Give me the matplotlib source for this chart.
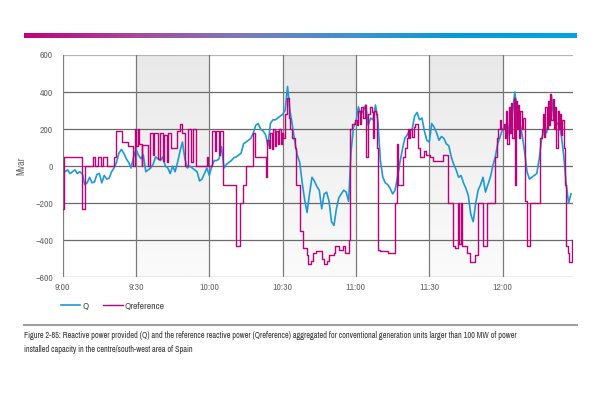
import numpy as np
import matplotlib
matplotlib.use("Agg")
import matplotlib.pyplot as plt
from matplotlib import font_manager
from matplotlib.colors import LinearSegmentedColormap

# a narrow face if one is installed, like the condensed type of the original
narrow = None
for f in font_manager.fontManager.ttflist:
    if 'Narrow' in f.name or 'Condensed' in f.name:
        narrow = (f.name, 'normal')
        break
if narrow is None:
    for f in font_manager.fontManager.ttflist:
        if f.stretch in ('condensed', 'semi-condensed') and 'Sans' in f.name:
            narrow = (f.name, f.stretch)
            break
if narrow is None:
    narrow = ('Liberation Sans', 'normal')
plt.rcParams['font.family'] = [narrow[0], 'DejaVu Sans']
plt.rcParams['font.stretch'] = narrow[1]

# minutes after 9:00, one value per minute (Q, Mvar)
q = [-10, -30, -20, -40, -30, -20, -40, -30, -40, -100,
     -90, -60, -90, -85, -45, -40, -90, -50, -70, -65,
     -30, -10, 20, 70, 90, 70, 40, 20, -10, 50,
     90, 60, 40, 60, -30, -20, -10, 10, 50, 40,
     30, 50, 0, -10, -40, 0, -30, 20, 80, 130,
     40, -10, 0, -10, -20, -30, -80, -70, -40, -10,
     -50, 0, 30, 30, 40, 105, -10, 10, 20, 30,
     45, 50, 60, 70, 120, 130, 140, 150, 180, 220,
     230, 200, 190, 170, 110, 230, 250, 250, 260, 270,
     280, 300, 430, 300, 220, 130, 60, 20, -90, -180,
     -250, -150, -60, -80, -110, -130, -230, -150, -140, -190,
     -300, -320, -230, -170, -150, -130, -140, -190, 80, 210,
     240, 320, 280, 300, 330, 220, 260, 250, 330, 240,
     30, -60, -90, -100, -120, -150, -130, -60, 20, 90,
     150, 170, 190, 200, 270, 290, 250, 260, 190, 140,
     130, 230, 210, 180, 140, 160, 150, 120, 110, 50,
     10, -20, -60, -50, -90, -120, -160, -260, -300, -200,
     -130, -100, -60, -140, -100, -60, 0, 50, 120, 160,
     200, 220, 150, 250, 280, 400, 300, 240, 170, 80,
     -30, -70, -60, -50, -40, 40, 150, 200, 180, 260,
     380, 260, 220, 240, 170, 60, -90, -200, -150]
minutes = np.arange(len(q))

# reference: change points (minute, Mvar), held until the next one
qref_t = [0, 0.6, 7.8, 9.1, 12.5, 13.4, 14.6, 15.8, 16.4, 18,
          20.8, 21.7, 24.2, 26.9, 28.9, 29.5, 30.2, 31, 31.3, 32.3,
          32.6, 35, 35.7, 37, 37.5, 39.1, 39.8, 41.2, 41.6, 42.5,
          43, 44.3, 46.6, 48, 48.7, 50.1, 51.4, 52.5, 53.5, 54.4,
          58.9, 59.6, 61, 62.3, 62.7, 64, 64.4, 65.7, 71.1, 72.6,
          73.8, 75, 78, 78.7, 83.1, 83.6, 84.4, 85, 85.6, 86.2,
          86.8, 87.4, 88, 88.6, 89.2, 89.7, 90.3, 91, 91.8, 92.5,
          93, 94, 95, 95.6, 97.1, 98.5, 99.8, 100.5, 101.5, 102.5,
          103.5, 106, 107, 108, 109, 111, 111.5, 113, 114.5, 115.5,
          117, 117.6, 118.5, 119.5, 120.3, 121, 121.6, 122.2, 123, 123.7,
          124.3, 125, 125.8, 126.5, 127, 127.4, 128.3, 128.6, 129, 130,
          133, 135.9, 136.1, 136.8, 137.4, 139.3, 140, 140.7, 141.2, 141.6,
          142.3, 143, 143.6, 144.3, 145.5, 146.2, 148, 148.8, 150.3, 151.6,
          155.8, 157.8, 159.8, 160.5, 161.8, 162.3, 163, 163.5, 165.3, 166.6,
          168.7, 170.1, 172.1, 173.5, 177, 177.6, 178.2, 179, 179.5, 180.5,
          181, 181.5, 182, 182.5, 183, 183.5, 184, 184.5, 185, 185.3,
          185.8, 186.3, 186.8, 187.3, 187.8, 188.3, 189, 189.9, 191.2, 195.3,
          196, 196.5, 197, 197.5, 198, 198.5, 199, 199.5, 200, 200.5,
          201, 201.5, 202, 202.5, 203, 203.5, 204, 204.5, 205, 205.5,
          206, 206.6, 207.3, 208.3, 208.7]
qref_v = [-230, 50, -230, 0, 50, 0, 50, 0, 50, 0,
          50, 190, 130, 110, 0, 200, 110, 200, 120, 0,
          115, 0, 180, 60, 180, 40, 180, 30, 170, 20,
          180, 100, 190, 230, 180, 0, 200, 20, 200, 0,
          50, 0, 190, 80, 190, 60, 190, -100, -430, -200,
          -100, 0, 180, 50, -60, 140, 100, 180, 90, 200,
          110, 190, 120, 200, 120, 180, 150, 280, 370, 260,
          200, 150, 100, -100, -350, -440, -480, -530, -510, -470,
          -460, -500, -530, -510, -480, -470, -430, -450, -430, -470,
          -400, 200, 230, 250, 220, 300, 230, 320, 260, 330,
          50, 280, 320, 290, 150, 300, 280, 100, -450, -460,
          -470, -440, -200, 120, -100, 50, 100, 150, 200, 150,
          200, 160, 210, 230, 100, 50, 80, 60, 50, 30,
          60, -200, -430, -440, -200, -420, -200, -430, -470, -520,
          -480, -200, -430, -200, 50, 150, 200, 250, 200, 230,
          150, 300, 120, 320, 180, 340, 150, 370, -100, 350,
          200, 330, 150, 300, 200, 260, -190, -430, -200, 150,
          200, 280, 160, 320, 200, 350, 220, 390, 250, 360,
          200, 320, 100, 300, 200, 280, 170, 250, 100, -100,
          -430, -470, -520, -400, -400]

xtick_pos = [0, 30, 60, 90, 120, 150, 180]
xtick_lab = ['9:00', '9:30', '10:00', '10:30', '11:00', '11:30', '12:00']
yticks = [-600, -400, -200, 0, 200, 400, 600]
bands = [(30, 60), (90, 120), (150, 180)]

caption = ("Figure 2-85: Reactive power provided (Q) and the reference reactive power (Qreference) "
           "aggregated for conventional generation units larger than 100 MW of power\n"
           "installed capacity in the centre/south-west area of Spain")

fig = plt.figure(figsize=(6, 3.94), dpi=100)

# coloured strip on top
bar = fig.add_axes([24 / 600, 1 - 38.5 / 394, 553 / 600, 6 / 394])
strip = LinearSegmentedColormap.from_list(
    'strip', ['#c2007b', '#a8489a', '#7a7cbc', '#3d93d0', '#009bdb', '#00a3e4'])
bar.imshow(np.linspace(0, 1, 300)[None, :], cmap=strip, aspect='auto')
bar.axis('off')

ax = fig.add_axes([62.7 / 600, 1 - 277.3 / 394, 510 / 600, 222.3 / 394])

shade = LinearSegmentedColormap.from_list('shade', ['#e9e9e9', '#fbfbfb'])
for a, b in bands:
    ax.imshow(np.linspace(0, 1, 100)[:, None], cmap=shade, aspect='auto',
              extent=(a, b, -600, 600), zorder=0)

for y in yticks[:-1]:
    ax.axhline(y, color='#6a6a6a', lw=0.9, zorder=1)
ax.axhline(600, color='#b4b4b4', lw=1.6, zorder=1)
for x in xtick_pos:
    ax.axvline(x, color='#7a7a7a', lw=0.9, zorder=1)

ax.plot(minutes, q, color='#1d9ad6', lw=1.2, label='Q', zorder=3)
ax.plot(qref_t, qref_v, color='#c0007a', lw=1.0, drawstyle='steps-post',
        label='Qreference', zorder=4)

ax.set_xlim(0, 208.7)
ax.set_ylim(-600, 600)
ax.set_xticks(xtick_pos)
ax.set_xticklabels(xtick_lab)
ax.set_yticks(yticks)
ax.tick_params(length=0, labelsize=7, labelcolor='#6a6a6a')
ax.tick_params(axis='y', pad=7)
ax.tick_params(axis='x', pad=4)
for s in ax.spines.values():
    s.set_visible(False)
ax.set_ylabel('Mvar', fontsize=7.2, color='#6a6a6a', labelpad=6)

ax.legend(loc='center left', bbox_to_anchor=(61 / 600, 1 - 306 / 394),
          bbox_transform=fig.transFigure, ncol=2, frameon=False,
          fontsize=7, handlelength=2.0, handletextpad=0.2,
          columnspacing=1.5, borderpad=0, borderaxespad=0,
          labelcolor='#444444')

fig.add_artist(plt.Line2D([24 / 600, 577 / 600], [1 - 325 / 394, 1 - 325 / 394],
                          color='#a0a0a0', lw=1.5))
cap = fig.text(24 / 600, 1 - 330.5 / 394, caption, fontsize=5.8, color='#333333',
               va='top', linespacing=1.75)

# the first caption line runs to about x=522 in the original
fig.canvas.draw()
w = cap.get_window_extent().width
cap.set_fontsize(5.8 * 498 / w)

fig.savefig('out.png', dpi=100)
